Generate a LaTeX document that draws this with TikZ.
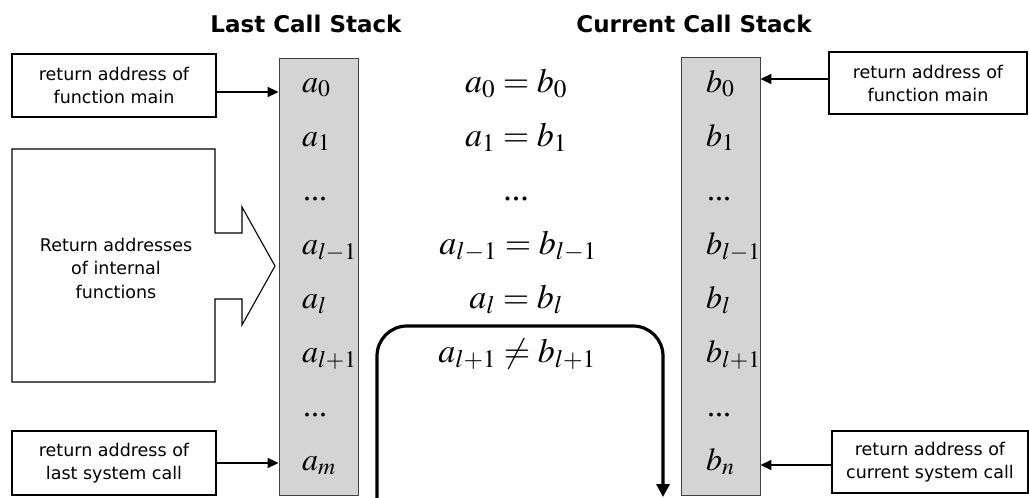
\documentclass[tikz,border=0pt]{standalone}
\usepackage{mathptmx}
\usepackage[no-math]{fontspec}
\newfontfamily\labelfont{DejaVu Sans}
\newfontfamily\tnrfont{Liberation Serif}
\usetikzlibrary{arrows.meta}
\tikzset{
  stackbox/.style={draw=black!75, fill=black!17, line width=0.9pt, inner sep=0pt},
  lbl/.style={draw, line width=1.1pt, inner sep=0pt, align=center, font=\labelfont\fontsize{17.5}{23}\selectfont},
  ent/.style={anchor=base west, inner sep=0pt, font=\fontsize{32}{36}\selectfont},
  eq/.style={anchor=base, inner sep=0pt, font=\fontsize{34}{38}\selectfont},
  ttl/.style={anchor=base, inner sep=0pt, font=\labelfont\bfseries\fontsize{23}{28}\selectfont},
  arr/.style={line width=1.9pt, -{Triangle[length=11pt,width=10pt]}},
  bigarr/.style={line width=3.2pt, rounded corners=30pt, -{Triangle[length=13pt,width=13pt]}}
}
\newcommand{\mydots}{{\tnrfont ...}}
\begin{document}
\begin{tikzpicture}[x=1pt,y=-1pt]
\useasboundingbox (0,0) rectangle (1029,498);
% titles
\node[ttl] (t1) at (306,32) {Last Call Stack};
\node[ttl] (t2) at (694,32) {Current Call Stack};
% stacks
\node[stackbox, minimum width=79pt, minimum height=437pt] (ls) at (318.5,277) {};
\node[stackbox, minimum width=79pt, minimum height=438pt] (rs) at (720.5,276) {};
% stack entries
\node[ent] (a0) at (302,92) {$a_0$};
\node[ent] (a1) at (302,146) {$a_1$};
\node[ent] (a2) at (303,200) {\mydots};
\node[ent] (a3) at (302,254) {$a_{l-1}$};
\node[ent] (a4) at (302,308) {$a_l$};
\node[ent] (a5) at (302,362) {$a_{l+1}$};
\node[ent] (a6) at (303,416) {\mydots};
\node[ent] (a7) at (302,470) {$a_m$};
\node[ent] (b0) at (706,92) {$b_0$};
\node[ent] (b1) at (706,146) {$b_1$};
\node[ent] (b2) at (707,200) {\mydots};
\node[ent] (b3) at (706,254) {$b_{l-1}$};
\node[ent] (b4) at (706,308) {$b_l$};
\node[ent] (b5) at (706,362) {$b_{l+1}$};
\node[ent] (b6) at (707,416) {\mydots};
\node[ent] (b7) at (706,470) {$b_n$};
% middle equations
\node[eq] (e0) at (516,92) {$a_0 = b_0$};
\node[eq] (e1) at (516,146) {$a_1 = b_1$};
\node[eq] (e2) at (516,200) {\mydots};
\node[eq] (e3) at (518,254) {$a_{l-1} = b_{l-1}$};
\node[eq] (e4) at (516,308) {$a_l = b_l$};
\node[eq] (e5) at (517,362) {$a_{l+1} \neq b_{l+1}$};
% label boxes
\node[lbl, minimum width=204pt, minimum height=63pt] (lb1) at (114,85.5) {return address of\\function main};
\node[lbl, minimum width=204pt, minimum height=64pt] (lb2) at (114,463) {return address of\\last system call};
\node[lbl, minimum width=198pt, minimum height=62pt] (rb1) at (928,83) {return address of\\function main};
\node[lbl, minimum width=196pt, minimum height=62pt] (rb2) at (930,462) {return address of\\current system call};
% callout
\draw[line width=1.1pt, line join=miter] (12,149) -- (215,149) -- (215,233) -- (242,233) -- (242,207) -- (275,266)
  -- (242,325) -- (242,299) -- (215,299) -- (215,382) -- (12,382) -- cycle;
\node[align=center, inner sep=0pt, font=\labelfont\fontsize{17.5}{23.5}\selectfont] (ct) at (116,268) {Return addresses\\of internal\\functions};
% arrows
\coordinate (y1) at (0,92);
\coordinate (y2) at (0,463);
\coordinate (y3) at (0,79);
\coordinate (y4) at (0,465);
\draw[arr] (lb1.east |- y1) -- (ls.west |- y1);
\draw[arr] (lb2.east |- y2) -- (ls.west |- y2);
\draw[arr] (rb1.west |- y3) -- (rs.east |- y3);
\draw[arr] (rb2.west |- y4) -- (rs.east |- y4);
% big bent arrow
\coordinate (s) at (377,500);
\coordinate (c1) at (377,326);
\coordinate (c2) at (663,326);
\coordinate (f) at (663,497);
\draw[bigarr] (s) -- (c1) -- (c2) -- (f);
\end{tikzpicture}
\end{document}
